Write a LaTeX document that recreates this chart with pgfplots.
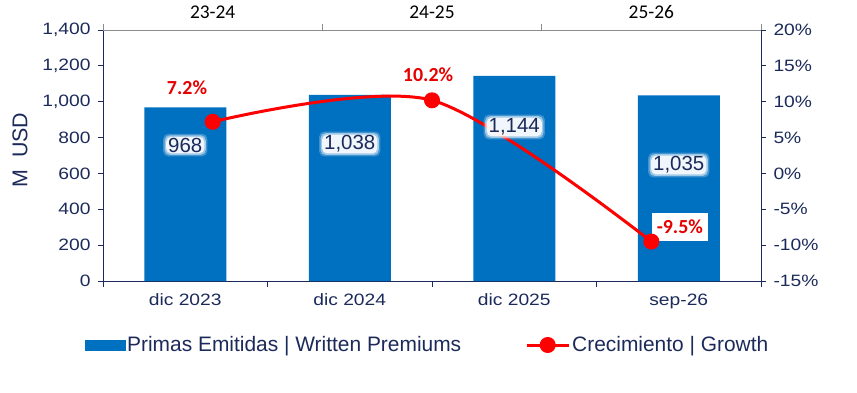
\documentclass[border=0pt]{standalone}
\usepackage{pgfplots}
\pgfplotsset{compat=1.18}
\usepackage{fontspec}
\setmainfont{Liberation Sans}
\newfontfamily\tickfont[FakeStretch=1.17]{Liberation Sans}
\newfontfamily\calfont{Carlito}

\definecolor{barblue}{HTML}{0070C0}
\definecolor{navy}{HTML}{1B2A5A}
\definecolor{growthred}{HTML}{FF0000}
\definecolor{labelred}{HTML}{E60000}
\definecolor{topgray}{HTML}{8C8C8C}

% Written premiums (M USD) and yearly growth (%)
\pgfplotstableread{
x  prem
0  968
1  1038
2  1144
3  1035
}\premiums
\pgfplotstableread{
x  growth
1  7.2
2  10.2
3  -9.5
}\growthdata

\tikzset{
  glow/.style={text opacity=0, fill=white, rounded corners=5bp, font=\fontsize{20.5}{22}\selectfont},
  vallabel/.style={text=navy, font=\fontsize{20.5}{22}\selectfont, inner sep=0.5bp},
}
\newcommand\glowlabel[2]{%
  \node[glow, fill opacity=0.25, inner xsep=5bp, inner ysep=4bp] at (#1) {#2};
  \node[glow, fill opacity=0.50, inner xsep=3.5bp, inner ysep=2.5bp] at (#1) {#2};
  \node[glow, fill opacity=0.85, inner xsep=2bp, inner ysep=1bp] at (#1) {#2};
  \node[vallabel] at (#1) {#2};
}

\begin{document}
\begin{tikzpicture}[x=1bp,y=1bp]
\path[use as bounding box] (0,0) rectangle (857,392);

% bars on the left axis
\begin{axis}[
  at={(103bp,111bp)}, anchor=south west,
  scale only axis, width=658bp, height=251bp,
  xmin=-0.5, xmax=3.5, ymin=0, ymax=1400,
  axis y line*=left, axis x line*=bottom,
  axis line style={navy, line width=1bp},
  xtick={0,1,2,3},
  xticklabels={dic 2023, dic 2024, dic 2025, sep-26},
  major x tick style={draw=none},
  minor xtick={-0.5,0.5,1.5,2.5,3.5},
  minor x tick style={navy, line width=0.8bp},
  minor tick length=6bp,
  ytick={0,200,...,1400},
  major tick length=5bp,
  ytick style={navy, line width=0.8bp},
  tick align=outside,
  tick label style={text=navy, font=\tickfont\fontsize{16.5}{18}\selectfont},
  yticklabel style={anchor=east, xshift=-4bp},
  xticklabel style={anchor=north, yshift=-4bp},
  /pgf/number format/assume math mode=true,
  /pgf/number format/.cd, 1000 sep={,}, /pgfplots/.cd,
  clip=false,
]
\addplot[ybar, bar width=82bp, fill=barblue, draw=none] table[x=x, y=prem] {\premiums};
\coordinate (v0) at (axis cs:0,758);
\coordinate (v1) at (axis cs:1,764);
\coordinate (v2) at (axis cs:2,859);
\coordinate (v3) at (axis cs:3,647);
\end{axis}

% growth line on the right axis, periods on the top axis
\begin{axis}[
  at={(103bp,111bp)}, anchor=south west,
  scale only axis, width=658bp, height=251bp,
  xmin=0.5, xmax=3.5, ymin=-15, ymax=20,
  axis y line*=right, axis x line*=top,
  y axis line style={navy, line width=1bp},
  x axis line style={topgray, line width=1bp},
  xtick={1,2,3},
  xticklabels={23-24, 24-25, 25-26},
  major x tick style={draw=none},
  minor xtick={0.5,1.5,2.5,3.5},
  minor x tick style={topgray, line width=0.8bp},
  minor tick length=6bp,
  ytick={-15,-10,...,20},
  yticklabel={\pgfmathprintnumber{\tick}\%},
  major tick length=5bp,
  ytick style={navy, line width=0.8bp},
  tick align=outside,
  yticklabel style={text=navy, font=\tickfont\fontsize{16.5}{18}\selectfont, anchor=west, xshift=4bp},
  xticklabel style={text=black, font=\calfont\fontsize{19.5}{21}\selectfont, anchor=south, yshift=3bp},
  /pgf/number format/assume math mode=true,
  clip=false,
  legend style={draw=none, fill=none, at={(-0.028,-0.255)}, anchor=west,
    legend columns=2, inner sep=0pt,
    font=\fontsize{21}{22}\selectfont, text=navy,
    /tikz/every even column/.append style={column sep=62bp}},
  legend cell align=left,
]
\addlegendimage{legend image code/.code={\fill[barblue] (0bp,-5bp) rectangle (40bp,5bp);}}
\addlegendentry{Primas Emitidas | Written Premiums}
\addplot[growthred, line width=3bp, smooth, mark=*, mark size=6.5bp,
  mark options={fill=growthred, draw=none},
  legend image code/.code={
    \draw[growthred, line width=3bp] (0bp,0bp) -- (42bp,0bp);
    \fill[growthred] (21bp,0bp) circle (6.5bp);}]
  table[x=x, y=growth] {\growthdata};
\addlegendentry{Crecimiento | Growth}
\node[text=labelred, font=\calfont\bfseries\fontsize{20}{22}\selectfont] at (axis cs:0.883,11.9) {7.2\%};
\node[text=labelred, font=\calfont\bfseries\fontsize{20}{22}\selectfont] at (axis cs:1.982,13.7) {10.2\%};
\node[text=labelred, fill=white, inner xsep=5bp, inner ysep=7bp, font=\calfont\bfseries\fontsize{20}{22}\selectfont] at (axis cs:3.13,-7.47) {-9.5\%};
\end{axis}

% value labels of the bars, set above the growth line
\glowlabel{v0}{968}
\glowlabel{v1}{1,038}
\glowlabel{v2}{1,144}
\glowlabel{v3}{1,035}

\node[rotate=90, text=navy, font=\fontsize{21.5}{22}\selectfont] at (20,242) {M\ \ USD};
\end{tikzpicture}
\end{document}
